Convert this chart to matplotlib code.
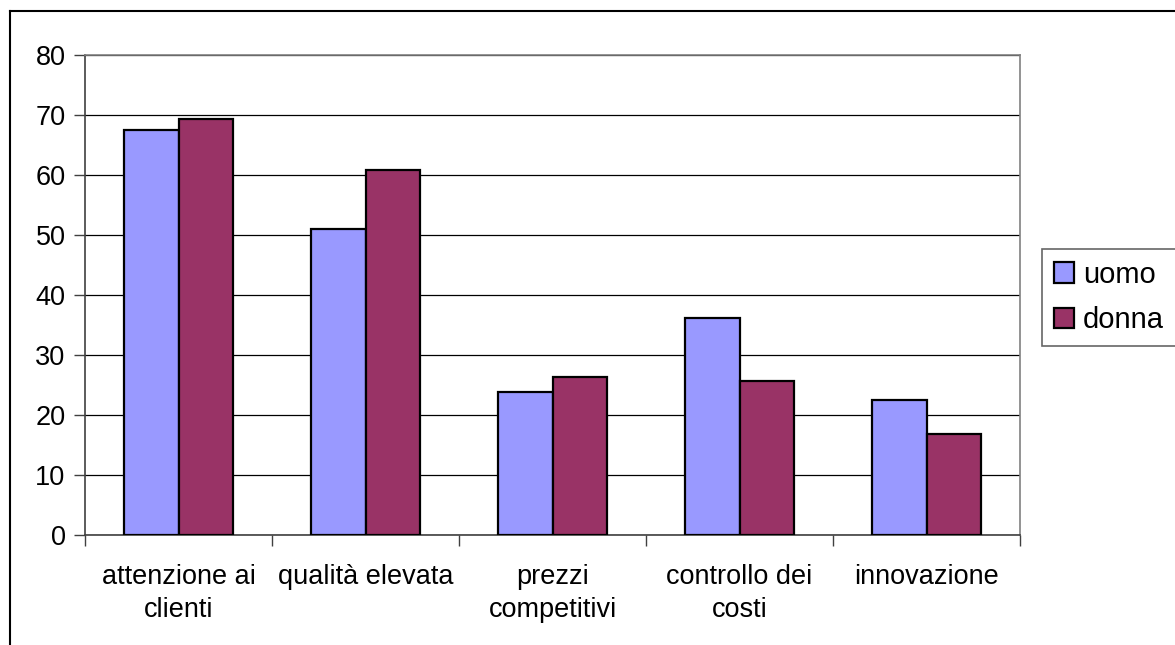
import numpy as np
import matplotlib.pyplot as plt
from matplotlib.lines import Line2D
from matplotlib.ticker import FixedLocator, NullFormatter

# --- data ---
categories = ["attenzione ai\nclienti", "qualità elevata", "prezzi\ncompetitivi",
              "controllo dei\ncosti", "innovazione"]
uomo = [67.5, 51.0, 23.9, 36.1, 22.5]
donna = [69.4, 60.9, 26.4, 25.7, 16.9]

plt.rcParams["font.family"] = ["Liberation Sans", "DejaVu Sans"]
FS = 19.5

fig = plt.figure(figsize=(11.75, 6.45), dpi=100)
ax = fig.add_axes([85 / 1175, 1 - 535 / 645, 935 / 1175, 480 / 645])

x = np.arange(len(categories))
w = 0.289
ax.bar(x - w / 2, uomo, w, color="#9999FF", edgecolor="black", linewidth=1.6,
       label="uomo", zorder=3)
ax.bar(x + w / 2, donna, w, color="#993366", edgecolor="black", linewidth=1.6,
       label="donna", zorder=3)

ax.set_xlim(-0.5, len(categories) - 0.5)
ax.set_ylim(0, 80)
ax.set_yticks(range(0, 81, 10))
ax.yaxis.grid(True, color="black", linewidth=0.9, zorder=1)
ax.set_axisbelow(True)

# category labels between boundary ticks
ax.xaxis.set_major_locator(FixedLocator(np.arange(-0.5, len(categories), 1.0)))
ax.xaxis.set_major_formatter(NullFormatter())
ax.set_xticks(x, minor=True)
ax.set_xticklabels(categories, minor=True, fontsize=FS, linespacing=1.35)
ax.tick_params(axis="x", which="minor", length=0, pad=21)
ax.tick_params(axis="x", which="major", length=8, width=1, color="#404040",
               direction="out")
ax.tick_params(axis="y", length=8, width=1, color="#404040", direction="out",
               labelsize=FS, pad=6)

for side in ["top", "right"]:
    ax.spines[side].set_color("#808080")
    ax.spines[side].set_linewidth(1.2)
for side in ["left", "bottom"]:
    ax.spines[side].set_color("#404040")
    ax.spines[side].set_linewidth(1.2)

leg = fig.legend(loc="upper left", bbox_to_anchor=(1042 / 1175, 1 - 249 / 645),
                 fontsize=21, frameon=True, fancybox=False, edgecolor="#404040",
                 handlelength=0.7, handleheight=0.7, handletextpad=0.3,
                 borderpad=0.4, labelspacing=0.6, borderaxespad=0)
leg.get_frame().set_linewidth(1.2)

# outer chart border (top and left edges)
fig.add_artist(Line2D([10 / 1175, 1], [1 - 11 / 645] * 2, color="black",
                      linewidth=1.5, transform=fig.transFigure))
fig.add_artist(Line2D([10 / 1175] * 2, [0, 1 - 11 / 645], color="black",
                      linewidth=1.5, transform=fig.transFigure))

fig.savefig("out.png", dpi=100)
